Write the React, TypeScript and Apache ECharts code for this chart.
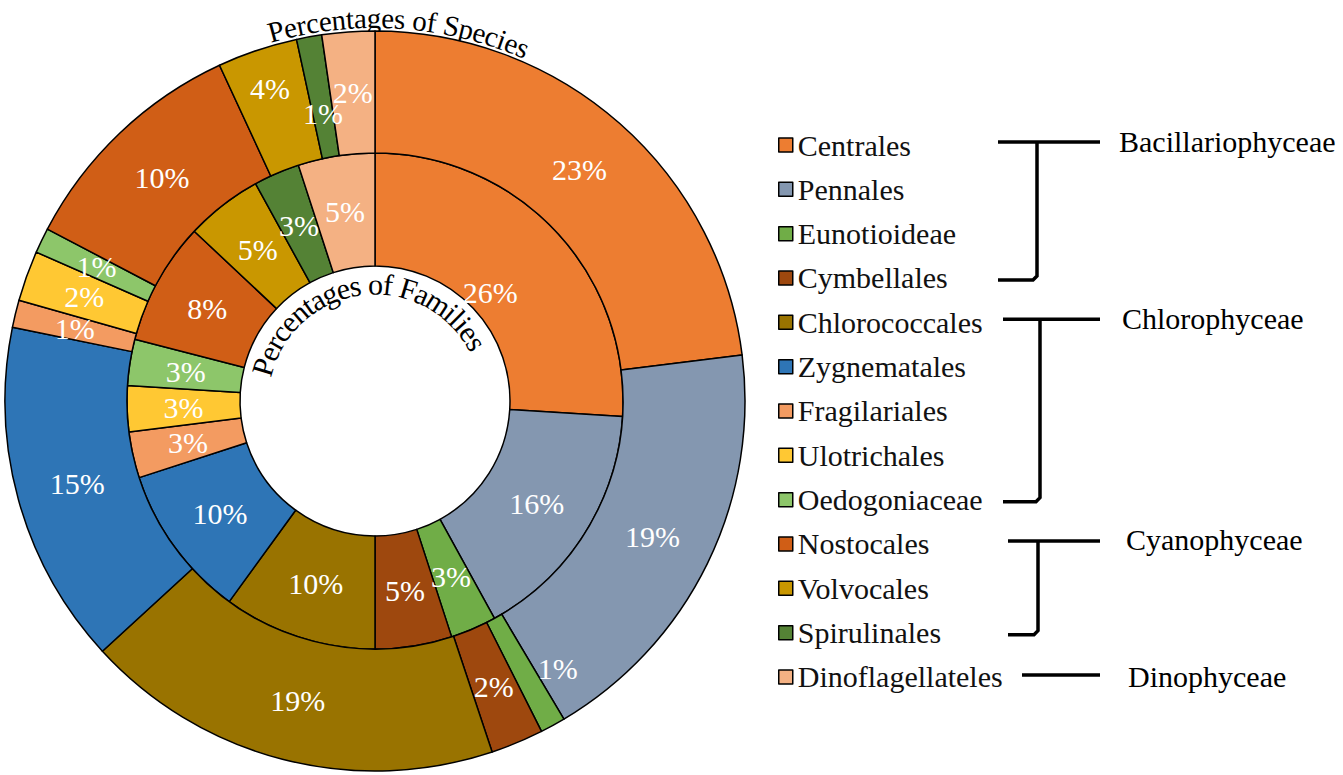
import React, { useEffect, useRef } from "react";
import * as echarts from "echarts";

const categories = [
  "Centrales",
  "Pennales",
  "Eunotioideae",
  "Cymbellales",
  "Chlorococcales",
  "Zygnematales",
  "Fragilariales",
  "Ulotrichales",
  "Oedogoniaceae",
  "Nostocales",
  "Volvocales",
  "Spirulinales",
  "Dinoflagellateles",
];
// printed percentage labels
const speciesPct = [23, 19, 1, 2, 19, 15, 1, 2, 1, 10, 4, 1, 2];
const familyPct = [26, 16, 3, 5, 10, 10, 3, 3, 3, 8, 5, 3, 5];
// sector shares of the outer ring (unrounded)
const speciesShare = [23.0, 18.45, 1.1, 2.3, 18.3, 15.0, 1.2, 2.2, 1.1, 10.4, 3.5, 1.1, 2.3];
const colors = [
  "#ED7D31",
  "#8497B0",
  "#70AD47",
  "#9E480E",
  "#997300",
  "#2E75B6",
  "#F39B61",
  "#FFC833",
  "#8DC66A",
  "#D05E16",
  "#C99700",
  "#548235",
  "#F4B183",
];
const groupNames = ["Bacillariophyceae", "Chlorophyceae", "Cyanophyceae", "Dinophyceae"];
const groupFrom = [0, 4, 9, 12];
const groupTo = [3, 8, 11, 12];
const speciesTitle = "Percentages of Species";
const familiesTitle = "Percentages of Families";

const FONT = "Liberation Serif";

function curvedText(
  text: string,
  cx: number,
  cy: number,
  r: number,
  centerDeg: number,
  fontSize: number
) {
  const canvas = document.createElement("canvas");
  const ctx = canvas.getContext("2d")!;
  ctx.font = `${fontSize}px "${FONT}"`;
  const total = ctx.measureText(text).width;
  let a = (centerDeg * Math.PI) / 180 - total / r / 2;
  const out: any[] = [];
  for (const ch of text) {
    const w = ctx.measureText(ch).width;
    const mid = a + w / 2 / r;
    if (ch !== " ") {
      out.push({
        type: "text",
        x: cx + r * Math.sin(mid),
        y: cy - r * Math.cos(mid),
        rotation: -mid,
        silent: true,
        style: {
          text: ch,
          fontSize,
          fontFamily: FONT,
          fill: "#000",
          align: "center",
          verticalAlign: "middle",
        },
      });
    }
    a += w / r;
  }
  return out;
}

// percentage labels placed at the middle of each ring sector (angles from the data)
function ringLabels(
  shares: number[],
  labels: number[],
  cx: number,
  cy: number,
  r: number,
  tweak: Record<number, { r?: number; da?: number }>
) {
  const total = shares.reduce((s, v) => s + v, 0);
  let acc = 0;
  return shares.map((v, i) => {
    const t = tweak[i] || {};
    const mid = ((acc + v / 2) / total) * Math.PI * 2 + ((t.da || 0) * Math.PI) / 180;
    acc += v;
    const rr = t.r ?? r;
    return {
      type: "text",
      silent: true,
      z: 100,
      x: cx + rr * Math.sin(mid),
      y: cy - rr * Math.cos(mid),
      style: {
        text: `${labels[i]}%`,
        fontSize: 30,
        fontFamily: FONT,
        fill: "#fff",
        align: "center",
        verticalAlign: "middle",
      },
    };
  });
}

export default function App() {
  const ref = useRef<HTMLDivElement>(null);
  useEffect(() => {
    document.body.style.margin = "0";
    const chart = echarts.init(ref.current!, null, { renderer: "svg" });
    const cx = 375;
    const cy = 401;
    const rHole = 135;
    const rMid = 248;
    const rOut = 370;
    const rowY0 = 145;
    const rowStep = 44.33;
    const rowY = (i: number) => rowY0 + i * rowStep;

    const bracketEls: any[] = [];
    const lineStartX = [998, 1003, 1008, 1022];
    const vertX = [1037, 1040, 1038, 1038];
    const labelX = [1119, 1122, 1126, 1128];
    groupNames.forEach((g, k) => {
      const from = groupFrom[k];
      const to = groupTo[k];
      const topY = from === to ? rowY(from) - 2 : rowY(from) - 3;
      const botY = rowY(to) + 2;
      bracketEls.push({
        type: "line",
        silent: true,
        shape: { x1: lineStartX[k], y1: topY, x2: 1100, y2: topY },
        style: { stroke: "#000", lineWidth: 3.5 },
      });
      if (from !== to) {
        bracketEls.push({
          type: "polyline",
          silent: true,
          shape: {
            points: [
              [vertX[k], topY],
              [vertX[k], botY - 4],
              [vertX[k] - 4, botY],
              [lineStartX[k], botY],
            ],
          },
          style: { stroke: "#000", lineWidth: 3.5, fill: null },
        });
      }
      bracketEls.push({
        type: "text",
        silent: true,
        x: labelX[k],
        y: from === to ? rowY(from) : rowY(from) - 4,
        style: {
          text: g,
          fontSize: 30,
          fontFamily: FONT,
          fill: "#000",
          align: "left",
          verticalAlign: "middle",
        },
      });
    });

    const makeData = (vals: number[]) =>
      categories.map((n, i) => ({ name: n, value: vals[i], itemStyle: { color: colors[i] } }));

    const pieCommon = {
      type: "pie",
      center: [cx, cy],
      startAngle: 90,
      clockwise: true,
      avoidLabelOverlap: false,
      silent: true,
      label: { show: false },
      labelLine: { show: false },
      itemStyle: { borderColor: "#000", borderWidth: 1.5 },
      emphasis: { disabled: true },
    };

    chart.setOption({
      animation: false,
      backgroundColor: "#fff",
      textStyle: { fontFamily: FONT },
      legend: {
        orient: "vertical",
        left: 778,
        top: rowY0 - 15,
        padding: 0,
        itemWidth: 14,
        itemHeight: 14,
        itemGap: rowStep - 30,
        icon: "rect",
        selectedMode: false,
        itemStyle: { borderColor: "#000", borderWidth: 1.5 },
        textStyle: { fontSize: 30, lineHeight: 30, fontFamily: FONT, color: "#111" },
        data: categories,
      },
      series: [
        { ...pieCommon, name: "Families", radius: [rHole, rMid], data: makeData(familyPct) },
        { ...pieCommon, name: "Species", radius: [rMid, rOut], data: makeData(speciesShare) },
      ],
      graphic: [
        ...ringLabels(familyPct, familyPct, cx, cy, (rHole + rMid) / 2, { 0: { r: 158 } }),
        ...ringLabels(speciesShare, speciesPct, cx, cy, (rMid + rOut) / 2, {
          2: { r: 324, da: -5.6 },
          10: { r: 330 },
          11: { r: 292 },
        }),
        ...curvedText(speciesTitle, cx, cy, 383, 3.7, 29),
        ...curvedText(familiesTitle, cx, cy, 117, -7, 30),
        ...bracketEls,
      ],
    });
    return () => chart.dispose();
  }, []);
  return <div ref={ref} style={{ width: 1343, height: 775 }} />;
}
